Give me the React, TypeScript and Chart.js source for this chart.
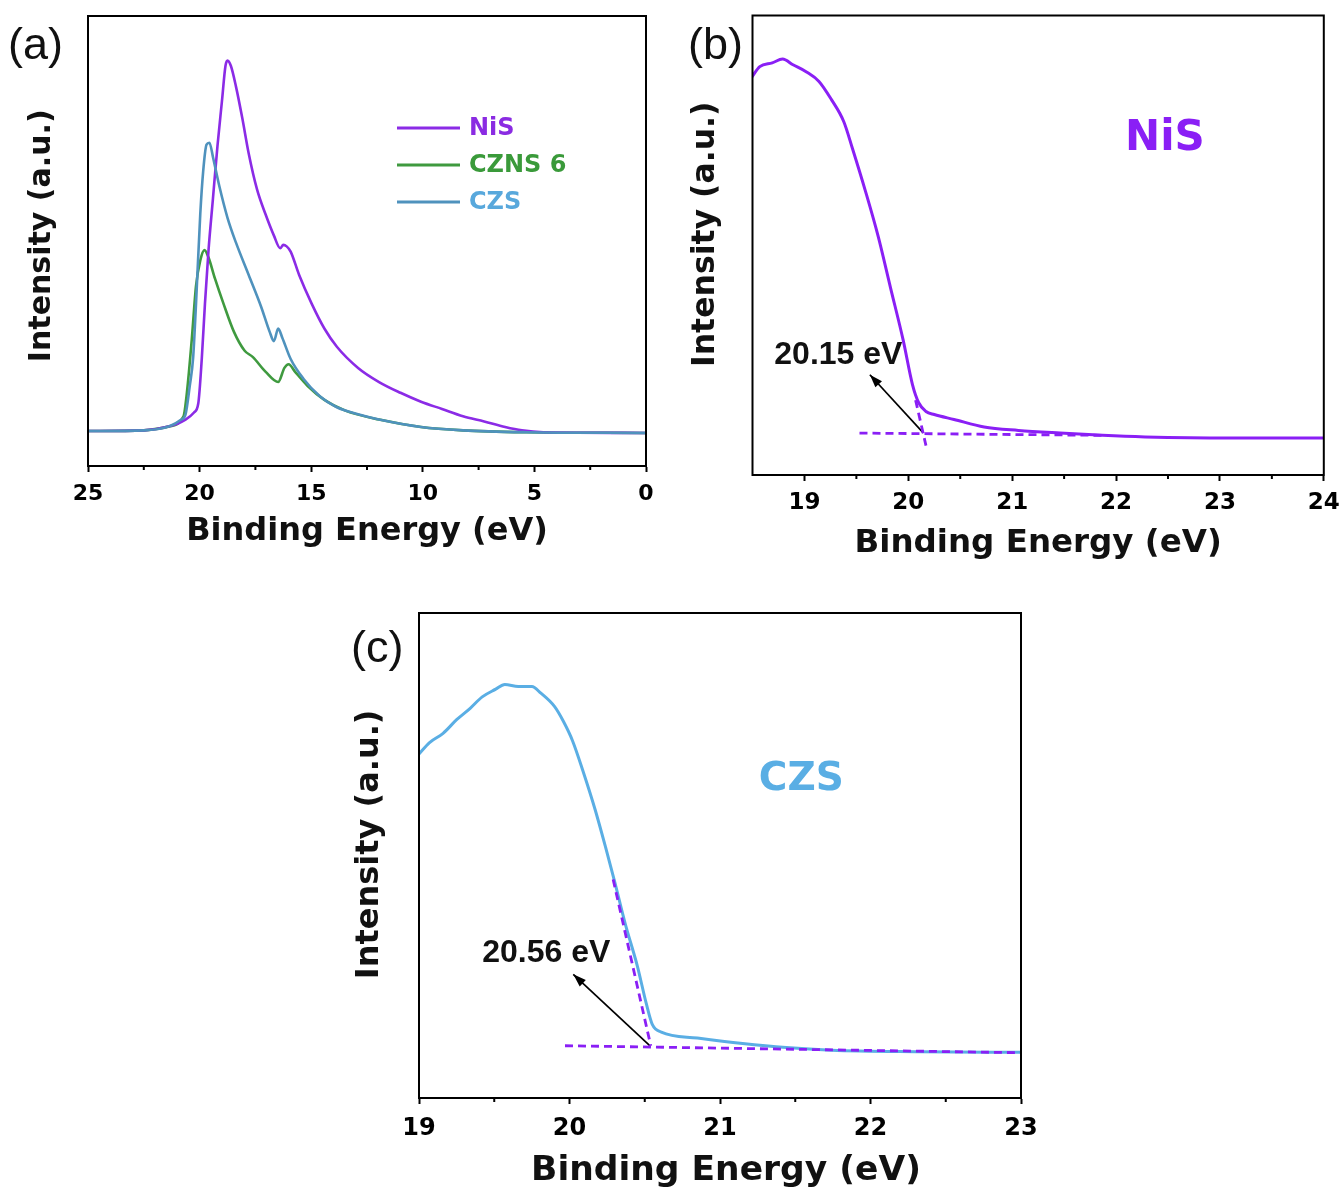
import React, { useEffect, useRef } from 'react';
import { Chart, registerables } from 'chart.js';
Chart.register(...registerables);

// ---------- Panel (a) data ----------
const aTicks = [0, 5, 10, 15, 20, 25];
const aMinorTicks = [2.5, 7.5, 12.5, 17.5, 22.5];
const aNiSEnergy = [25, 22.5, 21.4, 20.63, 20.25, 20.06, 19.9, 19.76, 19.6, 19.4, 19.2, 19.0, 18.84, 18.75, 18.6, 18.37, 18.09, 17.8, 17.43, 17.05, 16.67, 16.39, 16.25, 16.1, 15.92, 15.54, 14.98, 14.41, 13.85, 12.9, 11.96, 11.0, 10.08, 9.14, 8.2, 7.25, 6.31, 5.56, 4.6, 0];
const aNiSIntensity = [0.3, 0.5, 1.5, 3.4, 5.3, 7.7, 20, 34.6, 49, 63, 77, 89, 98.6, 100, 98.6, 93, 84.6, 75, 65.4, 58.7, 52.9, 49.5, 50.4, 50, 48.6, 42.3, 34.6, 27.9, 23, 17.3, 13.5, 10.6, 8.2, 6.25, 4.3, 2.9, 1.4, 0.5, 0, -0.2];
const aCZNSEnergy = [25, 22.5, 21.4, 20.72, 20.57, 20.35, 20.16, 19.97, 19.78, 19.6, 19.31, 18.93, 18.46, 17.99, 17.61, 17.05, 16.48, 16.2, 16.01, 15.73, 15.17, 14.41, 13.47, 11.96, 10.08, 8.2, 5.37, 0];
const aCZNSIntensity = [0.3, 0.5, 1.5, 4.3, 10.6, 25, 39.4, 46.2, 49, 47, 41.3, 34.6, 27, 22, 20.2, 16.3, 13.5, 17.3, 18.3, 16.3, 12.5, 8.7, 5.8, 3.4, 1.4, 0.5, 0, -0.2];
const aCZSEnergy = [25, 22.5, 21.4, 20.82, 20.63, 20.44, 20.29, 20.16, 19.97, 19.84, 19.69, 19.56, 19.4, 19.12, 18.75, 18.37, 17.8, 17.24, 16.86, 16.67, 16.48, 16.3, 15.92, 15.35, 14.6, 13.85, 12.9, 11.96, 10.08, 8.2, 5.37, 0];
const aCZSIntensity = [0.3, 0.5, 1.5, 3.4, 4.8, 12.5, 20, 34.6, 58.7, 70.2, 77.4, 77.9, 74, 66.3, 57.7, 51, 42.3, 33.7, 27, 24.5, 27.9, 25.5, 19.7, 14.4, 9.6, 6.7, 4.8, 3.4, 1.4, 0.5, 0, -0.2];
const aLabels = ['NiS', 'CZNS 6', 'CZS'];
const aLineColors = ['#8b2be6', '#3f9a3f', '#4f92bd'];
const aTextColors = ['#8a2be2', '#3a9a3a', '#58a8dc'];

// ---------- Panel (b) data ----------
const bTicks = [19, 20, 21, 22, 23, 24];
const bMinorTicks = [19.5, 20.5, 21.5, 22.5, 23.5];
const bNiSEnergy = [18.49, 18.57, 18.69, 18.79, 18.89, 19.02, 19.14, 19.26, 19.38, 19.46, 19.59, 19.71, 19.83, 19.95, 20.04, 20.1, 20.17, 20.25, 20.44, 20.73, 21.06, 21.46, 21.87, 22.28, 23.09, 24.0];
const bNiSIntensity = [95.1, 98, 99, 100, 98.5, 96.6, 94.1, 89.3, 83.4, 76.6, 64.9, 53.2, 39.5, 25.9, 14.1, 9.3, 7.0, 6.2, 4.9, 2.9, 2.0, 1.3, 0.7, 0.3, 0, 0];
const bBaseFitEnergy = [19.53, 21.9];
const bBaseFitIntensity = [1.3, 0.7];
const bEdgeFitEnergy = [20.07, 20.17];
const bEdgeFitIntensity = [10, -2];
const bArrowEnergy = [20.144, 19.63];
const bArrowIntensity = [1.36, 16.7];
const bEdgeLabel = '20.15 eV';

// ---------- Panel (c) data ----------
const cTicks = [19, 20, 21, 22, 23];
const cMinorTicks = [19.5, 20.5, 21.5, 22.5];
const cCZSEnergy = [19.0, 19.07, 19.16, 19.25, 19.34, 19.42, 19.51, 19.57, 19.66, 19.75, 19.81, 19.9, 19.96, 20.02, 20.09, 20.17, 20.24, 20.3, 20.37, 20.45, 20.51, 20.55, 20.61, 20.85, 21.15, 21.44, 21.74, 22.33, 23.0];
const cCZSIntensity = [81.1, 84.2, 86.7, 90.4, 93.5, 96.6, 98.7, 100, 99.4, 99.4, 97.6, 94, 89.9, 84.7, 76.4, 66, 55.7, 46.4, 35, 23.6, 13.3, 7.6, 5.5, 3.9, 2.4, 1.3, 0.6, 0.2, 0];
const cBaseFitEnergy = [19.97, 23.0];
const cBaseFitIntensity = [1.8, -0.1];
const cEdgeFitEnergy = [20.29, 20.54];
const cEdgeFitIntensity = [47, 1.8];
const cArrowEnergy = [20.535, 20.025];
const cArrowIntensity = [1.74, 21.2];
const cEdgeLabel = '20.56 eV';

const pts = (xs: number[], ys: number[]) => xs.map((x, i) => ({ x, y: ys[i] }));

const BOLD = '"DejaVu Sans"';
const ARIAL = '"Liberation Sans"';

type Txt = { text: string; x: number; y: number; font: string; color: string; align?: CanvasTextAlign; pixel?: boolean };

function decorPlugin(opts: {
  minor: number[];
  letter: string;
  letterX: number;
  letterY: number;
  texts: Txt[];
  arrow?: { xs: number[]; ys: number[] };
  legend?: boolean;
}) {
  return {
    id: 'decor' + opts.letter,
    afterDraw(chart: any) {
      const ctx: CanvasRenderingContext2D = chart.ctx;
      const { left, right, top, bottom } = chart.chartArea;
      const xs = chart.scales.x;
      const ys = chart.scales.y;
      ctx.save();
      ctx.strokeStyle = '#000';
      ctx.lineWidth = 2;
      ctx.strokeRect(left, top, right - left, bottom - top);
      ctx.beginPath();
      for (const v of opts.minor) {
        const px = xs.getPixelForValue(v);
        ctx.moveTo(px, bottom);
        ctx.lineTo(px, bottom + 4);
      }
      ctx.stroke();
      ctx.fillStyle = '#111';
      ctx.font = '45px ' + ARIAL;
      ctx.textAlign = 'left';
      ctx.textBaseline = 'alphabetic';
      ctx.fillText(opts.letter, opts.letterX, opts.letterY);
      for (const t of opts.texts) {
        ctx.font = t.font;
        ctx.fillStyle = t.color;
        ctx.textAlign = t.align || 'left';
        ctx.textBaseline = 'alphabetic';
        const px = t.pixel ? t.x : xs.getPixelForValue(t.x);
        const py = t.pixel ? t.y : ys.getPixelForValue(t.y);
        ctx.fillText(t.text, px, py);
      }
      if (opts.arrow) {
        const tx = xs.getPixelForValue(opts.arrow.xs[0]);
        const ty = ys.getPixelForValue(opts.arrow.ys[0]);
        const hx = xs.getPixelForValue(opts.arrow.xs[1]);
        const hy = ys.getPixelForValue(opts.arrow.ys[1]);
        const a = Math.atan2(hy - ty, hx - tx);
        const L = 13, W = 4.5;
        const bx = hx - L * Math.cos(a), by = hy - L * Math.sin(a);
        ctx.fillStyle = '#000';
        ctx.beginPath();
        ctx.moveTo(hx, hy);
        ctx.lineTo(bx - W * Math.sin(a), by + W * Math.cos(a));
        ctx.lineTo(bx + W * Math.sin(a), by - W * Math.cos(a));
        ctx.closePath();
        ctx.fill();
      }
      if (opts.legend) {
        const rows = [128, 165, 202];
        chart.data.datasets.forEach((ds: any) => {
          const idx = aLabels.indexOf(ds.label);
          if (idx < 0) return;
          const y = rows[idx];
          ctx.strokeStyle = ds.borderColor;
          ctx.lineWidth = 3;
          ctx.beginPath();
          ctx.moveTo(397, y);
          ctx.lineTo(460, y);
          ctx.stroke();
          ctx.font = 'bold 24px ' + BOLD;
          ctx.fillStyle = aTextColors[idx];
          ctx.textAlign = 'left';
          ctx.textBaseline = 'middle';
          ctx.fillText(ds.label, 469, y + 1);
        });
      }
      ctx.restore();
    },
  };
}

function makeOptions(p: {
  xMin: number; xMax: number; yMin: number; yMax: number; reverse?: boolean; ticks: number[];
  tickSize: number; tickPad: number; xTitle: string; xTitleSize: number; xTitlePad: number; xHeight: number;
  yTitle: string; yTitleSize: number; yTitlePad: number; yWidth: number; padding: any;
}) {
  return {
    animation: false,
    responsive: false,
    devicePixelRatio: 1,
    events: [],
    layout: { padding: p.padding },
    plugins: { legend: { display: false }, tooltip: { enabled: false } },
    elements: { point: { radius: 0 } },
    scales: {
      x: {
        type: 'linear',
        min: p.xMin,
        max: p.xMax,
        reverse: !!p.reverse,
        afterBuildTicks: (s: any) => { s.ticks = p.ticks.map((v) => ({ value: v })); },
        afterFit: (s: any) => { s.height = p.xHeight; s.paddingLeft = 0; s.paddingRight = 0; },
        ticks: {
          autoSkip: false,
          maxRotation: 0,
          padding: p.tickPad,
          color: '#000',
          font: { family: 'DejaVu Sans', weight: 'bold', size: p.tickSize },
          callback: (v: any) => String(v),
        },
        grid: { display: true, drawOnChartArea: false, drawTicks: true, tickLength: 6, tickWidth: 2, tickColor: '#000' },
        border: { display: true, color: '#000', width: 2 },
        title: {
          display: true,
          text: p.xTitle,
          color: '#111',
          font: { family: 'DejaVu Sans', weight: 'bold', size: p.xTitleSize },
          padding: { top: 0, bottom: p.xTitlePad },
        },
      },
      y: {
        type: 'linear',
        min: p.yMin,
        max: p.yMax,
        afterFit: (s: any) => { s.width = p.yWidth; s.paddingTop = 0; s.paddingBottom = 0; },
        ticks: { display: false },
        grid: { display: false },
        border: { display: false },
        title: {
          display: true,
          text: p.yTitle,
          color: '#111',
          font: { family: 'DejaVu Sans', weight: 'bold', size: p.yTitleSize },
          padding: { top: p.yTitlePad, bottom: 0 },
        },
      },
    },
  } as any;
}

function configA() {
  return {
    type: 'line',
    data: {
      datasets: [
        { label: aLabels[2], data: pts(aCZSEnergy, aCZSIntensity), borderColor: aLineColors[2], borderWidth: 2.6, cubicInterpolationMode: 'monotone', order: 0 },
        { label: aLabels[0], data: pts(aNiSEnergy, aNiSIntensity), borderColor: aLineColors[0], borderWidth: 2.6, cubicInterpolationMode: 'monotone', order: 1 },
        { label: aLabels[1], data: pts(aCZNSEnergy, aCZNSIntensity), borderColor: aLineColors[1], borderWidth: 2.6, cubicInterpolationMode: 'monotone', order: 2 },
      ],
    },
    options: makeOptions({
      xMin: 0, xMax: 25, yMin: -9.1, yMax: 112, reverse: true, ticks: aTicks,
      tickSize: 22, tickPad: 9, xTitle: 'Binding Energy (eV)', xTitleSize: 32, xTitlePad: 9, xHeight: 94,
      yTitle: ' Intensity (a.u.)', yTitleSize: 30, yTitlePad: 24, yWidth: 88,
      padding: { top: 16, right: 14, left: 0, bottom: 0 },
    }),
    plugins: [decorPlugin({ minor: aMinorTicks, letter: '(a)', letterX: 8, letterY: 59, texts: [], legend: true })],
  } as any;
}

function configB() {
  const purple = '#8a1ff5';
  return {
    type: 'line',
    data: {
      datasets: [
        { label: 'fit1', data: pts(bBaseFitEnergy, bBaseFitIntensity), borderColor: purple, borderWidth: 2.8, borderDash: [8, 5], order: 1 },
        { label: 'fit2', data: pts(bEdgeFitEnergy, bEdgeFitIntensity), borderColor: purple, borderWidth: 2.8, borderDash: [8, 5], order: 0 },
        { label: 'NiS', data: pts(bNiSEnergy, bNiSIntensity), borderColor: purple, borderWidth: 3, cubicInterpolationMode: 'monotone', order: 2 },
        { label: 'arrow', data: pts(bArrowEnergy, bArrowIntensity), borderColor: '#000', borderWidth: 1.7, order: 0 },
      ],
    },
    options: makeOptions({
      xMin: 18.5, xMax: 24, yMin: -9.76, yMax: 111.5, ticks: bTicks,
      tickSize: 23, tickPad: 8, xTitle: 'Binding Energy (eV)', xTitleSize: 32.5, xTitlePad: 16.5, xHeight: 105,
      yTitle: '  Intensity (a.u.)', yTitleSize: 31.5, yTitlePad: 7, yWidth: 72.5,
      padding: { top: 15.5, right: 17.2, left: 0, bottom: 0 },
    }),
    plugins: [decorPlugin({
      minor: bMinorTicks, letter: '(b)', letterX: 8, letterY: 59,
      texts: [
        { text: bEdgeLabel, x: 18.71, y: 19.6, font: 'bold 32px ' + ARIAL, color: '#111' },
        { text: 'NiS', x: 22.47, y: 76, font: 'bold 42px ' + BOLD, color: purple, align: 'center' },
      ],
      arrow: { xs: bArrowEnergy, ys: bArrowIntensity },
    })],
  } as any;
}

function configC() {
  const purple = '#8a1ff5';
  const blue = '#5aaee4';
  return {
    type: 'line',
    data: {
      datasets: [
        { label: 'fit1', data: pts(cBaseFitEnergy, cBaseFitIntensity), borderColor: purple, borderWidth: 2.8, borderDash: [8, 5], order: 0 },
        { label: 'fit2', data: pts(cEdgeFitEnergy, cEdgeFitIntensity), borderColor: purple, borderWidth: 2.8, borderDash: [8, 5], order: 0 },
        { label: 'CZS', data: pts(cCZSEnergy, cCZSIntensity), borderColor: blue, borderWidth: 3, cubicInterpolationMode: 'monotone', order: 2 },
        { label: 'arrow', data: pts(cArrowEnergy, cArrowIntensity), borderColor: '#000', borderWidth: 1.7, order: 0 },
      ],
    },
    options: makeOptions({
      xMin: 19, xMax: 23, yMin: -12.4, yMax: 119.4, ticks: cTicks,
      tickSize: 24, tickPad: 10, xTitle: ' Binding Energy (eV)', xTitleSize: 34.5, xTitlePad: 5.3, xHeight: 99,
      yTitle: '  Intensity (a.u.)', yTitleSize: 32, yTitlePad: 10, yWidth: 79,
      padding: { top: 13, right: 19, left: 0, bottom: 0 },
    }),
    plugins: [decorPlugin({
      minor: cMinorTicks, letter: '(c)', letterX: 11, letterY: 62,
      texts: [
        { text: cEdgeLabel, x: 19.42, y: 24.6, font: 'bold 32px ' + ARIAL, color: '#111' },
        { text: 'CZS', x: 21.54, y: 71.2, font: 'bold 39px ' + BOLD, color: blue, align: 'center' },
      ],
      arrow: { xs: cArrowEnergy, ys: cArrowIntensity },
    })],
  } as any;
}

function Panel(props: { left: number; top: number; width: number; height: number; make: () => any }) {
  const ref = useRef<HTMLCanvasElement | null>(null);
  useEffect(() => {
    if (!ref.current) return;
    const chart = new Chart(ref.current, props.make());
    return () => chart.destroy();
  }, []);
  return (
    <canvas
      ref={ref}
      width={props.width}
      height={props.height}
      style={{ position: 'absolute', left: props.left, top: props.top, width: props.width, height: props.height }}
    />
  );
}

export default function App() {
  useEffect(() => {
    document.body.style.margin = '0';
  }, []);
  return (
    <div style={{ position: 'relative', width: 1341, height: 1197, background: '#fff', overflow: 'hidden' }}>
      <Panel left={0} top={0} width={660} height={560} make={configA} />
      <Panel left={680} top={0} width={661} height={580} make={configB} />
      <Panel left={340} top={600} width={700} height={597} make={configC} />
    </div>
  );
}
